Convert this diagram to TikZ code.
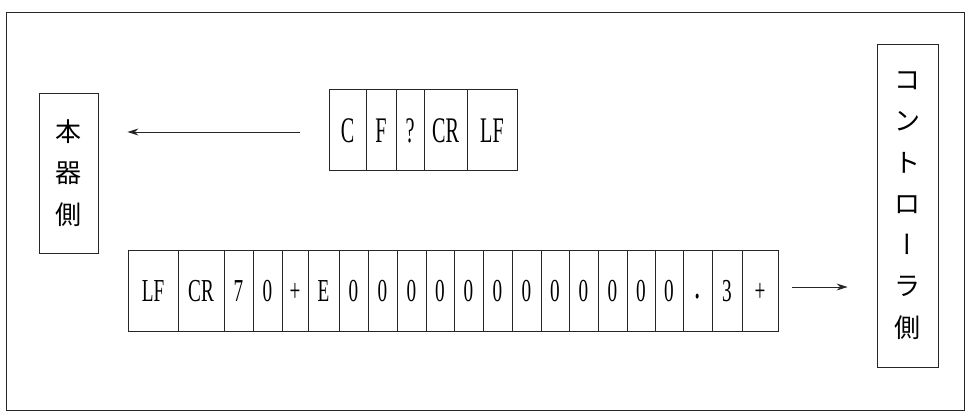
\documentclass[tikz,border=0pt]{standalone}
\usepackage{fontspec}
\usetikzlibrary{arrows.meta}
\newfontfamily\cjk{Noto Sans CJK JP}
\newfontfamily\cjkvert[RawFeature=+vert]{Noto Sans CJK JP}
\newfontfamily\condserif[FakeStretch=0.56]{Liberation Serif}
\newfontfamily\condserifb[FakeStretch=0.6]{Liberation Serif}
\tikzset{
  line/.style={line width=0.9pt, draw=black!85},
  cell/.style={line, draw, inner sep=0pt, text depth=0pt},
  topcell/.style={cell, minimum height=81pt, text height=24pt,
    font=\condserif\fontsize{36}{36}\selectfont},
  botcell/.style={cell, minimum height=81pt, text height=21pt,
    font=\condserifb\fontsize{32}{32}\selectfont},
  side/.style={line, draw, inner sep=0pt, align=center,
    font=\cjk\fontsize{26}{41.3}\selectfont},
  flow/.style={line, -{Stealth[length=11pt,width=7pt]}},
}
\begin{document}
\begin{tikzpicture}[x=1pt, y=-1pt]
  \useasboundingbox (0,0) rectangle (968,412);
  % outer frame
  \draw[line] (6,12) rectangle (964,410);

  % the two sides
  \node[side, minimum width=59pt, minimum height=160pt] (dev) at (68.5,173)
    {本\\器\\側};
  \node[side, minimum width=61pt, minimum height=323pt] (ctl) at (907.5,205.5)
    {コ\\ン\\ト\\ロ\\{\cjkvert ー}\\ラ\\側};

  % command sent from the controller
  \foreach \a/\b/\t [count=\i] in
    {329/366/C, 366/396/F, 396/424/?, 424/467/CR, 467/517/LF}
    \node[topcell, minimum width={\b-\a}] (t\i) at ({(\a+\b)/2},130) {\t};

  % response returned by the instrument
  \foreach \a/\b/\t [count=\i] in
    {128/178/LF, 178/224/CR, 224/253/7, 253/282/0, 282/308/+, 308/339/E,
     339/368/0, 368/397/0, 397/426/0, 426/454/0, 454/483/0, 483/512/0,
     512/541/0, 541/569/0, 569/598/0, 598/627/0, 627/655/0, 655/683/0,
     683/712/{\raisebox{3pt}{\fontsize{42}{42}\selectfont.}}, 712/742/3, 742/778/+}
    \node[botcell, minimum width={\b-\a}] (b\i) at ({(\a+\b)/2},290.5) {\t};

  % direction arrows
  \coordinate (q1) at ([xshift=-29pt]t1.west |- 0,132);
  \coordinate (q2) at ([xshift=29pt]dev.east |- 0,132);
  \draw[flow] (q1) -- (q2);
  \coordinate (r1) at ([xshift=14pt]b21.east |- 0,287);
  \coordinate (r2) at ([xshift=-29pt]ctl.west |- 0,287);
  \draw[flow] (r1) -- (r2);
\end{tikzpicture}
\end{document}
